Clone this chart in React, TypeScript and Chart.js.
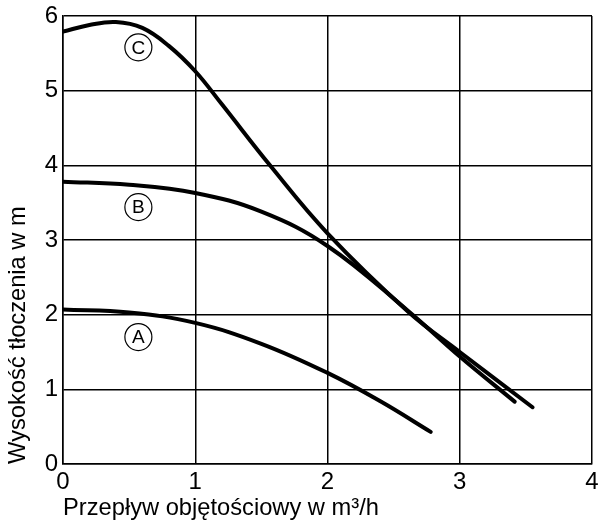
import React, { useEffect, useRef } from "react";
import { Chart, registerables } from "chart.js";

Chart.register(...registerables);

const xTicks = [0, 1, 2, 3, 4];
const yTicks = [0, 1, 2, 3, 4, 5, 6];

const curveAx = [0, 0.5, 1.0, 1.5, 2.0, 2.4, 2.78];
const curveAy = [2.07, 2.03, 1.89, 1.61, 1.22, 0.84, 0.43];

const curveBx = [0, 0.5, 1.0, 1.5, 2.0, 2.61, 3.0, 3.415];
const curveBy = [3.78, 3.74, 3.63, 3.38, 2.92, 2.05, 1.44, 0.835];

const curveCx = [0, 0.2, 0.4, 0.6, 0.8, 1.0, 1.2, 1.565, 2.0, 2.61, 3.0, 3.55];
const curveCy = [5.79, 5.88, 5.92, 5.84, 5.6, 5.26, 4.82, 4.0, 3.09, 2.04, 1.5, 0.76];

const markerNames = ["A", "B", "C"];
const markerX = [0.57, 0.57, 0.57];
const markerY = [1.7, 3.44, 5.58];

const xTitle = "Przepływ objętościowy w m³/h";
const yTitle = "Wysokość tłoczenia w m";

const FONT = "'Liberation Sans', Arial, sans-serif";

function pts(xs: number[], ys: number[]) {
  return xs.map((x, i) => ({ x, y: ys[i] }));
}

const markerPlugin = {
  id: "circledMarkers",
  afterDatasetsDraw(chart: any) {
    const ctx = chart.ctx;
    const xs = chart.scales.x;
    const ys = chart.scales.y;
    ctx.save();
    for (let i = 0; i < markerNames.length; i++) {
      const cx = xs.getPixelForValue(markerX[i]);
      const cy = ys.getPixelForValue(markerY[i]);
      ctx.beginPath();
      ctx.arc(cx, cy, 13.5, 0, Math.PI * 2);
      ctx.lineWidth = 1.2;
      ctx.strokeStyle = "#000";
      ctx.stroke();
      ctx.fillStyle = "#000";
      ctx.font = `19px ${FONT}`;
      ctx.textAlign = "center";
      ctx.textBaseline = "middle";
      ctx.fillText(markerNames[i], cx, cy + 1);
    }
    ctx.restore();
  },
};

export default function App() {
  const ref = useRef<HTMLCanvasElement | null>(null);
  useEffect(() => {
    if (!ref.current) return;
    const ds = (xs: number[], ys: number[]) => ({
      data: pts(xs, ys),
      borderColor: "#000",
      borderWidth: 4,
      borderCapStyle: "round" as const,
      borderJoinStyle: "round" as const,
      pointRadius: 0,
      tension: 0.4,
      fill: false,
    });
    const chart = new Chart(ref.current, {
      type: "line",
      data: {
        datasets: [ds(curveAx, curveAy), ds(curveBx, curveBy), ds(curveCx, curveCy)],
      },
      options: {
        animation: false,
        responsive: false,
        maintainAspectRatio: false,
        layout: { padding: { left: 0, top: 16, right: 7, bottom: 0 } },
        plugins: { legend: { display: false }, tooltip: { enabled: false } },
        scales: {
          x: {
            type: "linear",
            min: 0,
            max: 4,
            afterBuildTicks: (s: any) => {
              s.ticks = xTicks.map((v) => ({ value: v }));
            },
            afterFit: (s: any) => {
              s.height = 64;
              s.paddingLeft = 0;
              s.paddingRight = 0;
            },
            grid: { color: "#000", lineWidth: 1.5, drawTicks: false },
            border: { color: "#000", width: 1.5 },
            ticks: { color: "#000", font: { family: FONT, size: 24 }, padding: 4, maxRotation: 0 },
            title: {
              display: true,
              text: xTitle,
              align: "start",
              color: "#000",
              font: { family: FONT, size: 23.7 },
              padding: { top: 0, bottom: 5 },
            },
          },
          y: {
            type: "linear",
            min: 0,
            max: 6,
            afterBuildTicks: (s: any) => {
              s.ticks = yTicks.map((v) => ({ value: v }));
            },
            afterFit: (s: any) => {
              s.width = 63;
              s.paddingTop = 0;
              s.paddingBottom = 0;
            },
            grid: { color: "#000", lineWidth: 1.5, drawTicks: false },
            border: { color: "#000", width: 1.5 },
            ticks: { color: "#000", font: { family: FONT, size: 24 }, padding: 5 },
            title: {
              display: true,
              text: yTitle,
              align: "start",
              color: "#000",
              font: { family: FONT, size: 23.7 },
              padding: { top: 4, bottom: 0 },
            },
          },
        },
      },
      plugins: [markerPlugin],
    });
    return () => chart.destroy();
  }, []);
  return (
    <div style={{ position: "fixed", left: 0, top: 0, width: 599, height: 528, background: "#fff" }}>
      <canvas ref={ref} width={599} height={528} style={{ display: "block" }} />
    </div>
  );
}
